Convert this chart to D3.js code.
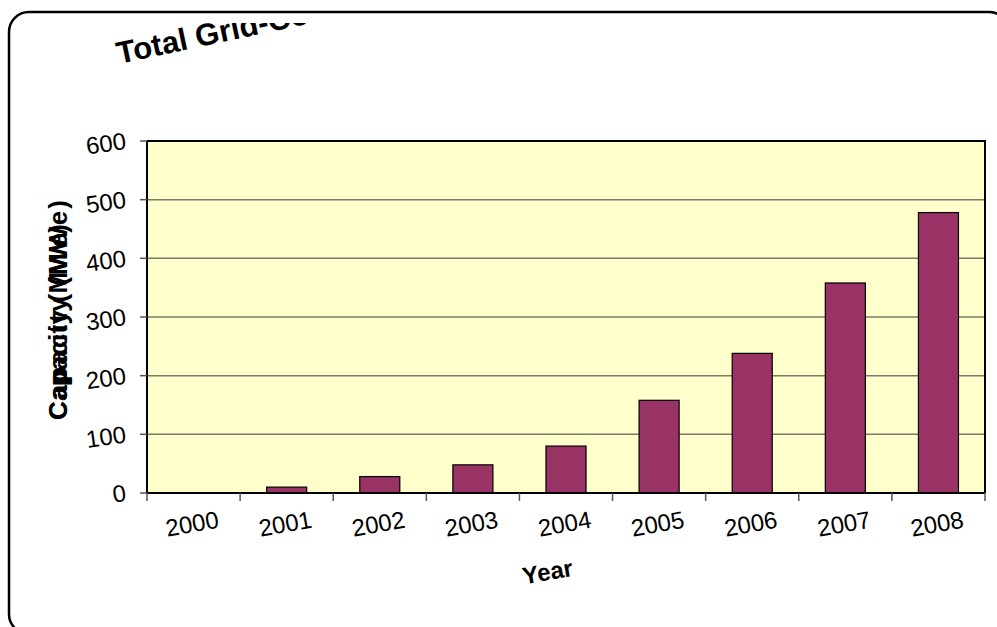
<!DOCTYPE html>
<html>
<head>
<meta charset="utf-8">
<title>Total Grid-Connected Capacity</title>
<script src="https://cdn.jsdelivr.net/npm/d3@7/dist/d3.min.js"></script>
<style>
  body { margin: 0; background: #fff; }
  svg { display: block; font-family: "Liberation Sans", Arial, sans-serif; }
</style>
</head>
<body>
<svg id="chart"></svg>
<script>
const WIDTH = 997;
const HEIGHT = 627;

// data
const years = ["2000", "2001", "2002", "2003", "2004", "2005", "2006", "2007", "2008"];
const capacity = [0, 10, 28, 48, 80, 158, 238, 358, 478];
const yTicks = [0, 100, 200, 300, 400, 500, 600];

const plot = { left: 147, right: 985, top: 141, bottom: 493 };

const svg = d3.select("#chart")
    .attr("width", WIDTH)
    .attr("height", HEIGHT);

// outer rounded frame (runs off the right and bottom edges)
svg.append("rect")
    .attr("x", 9).attr("y", 12)
    .attr("width", 1000).attr("height", 622)
    .attr("rx", 20).attr("ry", 20)
    .attr("fill", "none")
    .attr("stroke", "black")
    .attr("stroke-width", 2.5);

// title, clipped just under the frame like the original
svg.append("clipPath").attr("id", "titleclip")
    .append("rect").attr("x", 0).attr("y", 23).attr("width", WIDTH).attr("height", 100);

svg.append("g")
    .attr("clip-path", "url(#titleclip)")
  .append("text")
    .attr("transform", "translate(119,64) rotate(-12)")
    .attr("font-size", 31)
    .attr("font-weight", "bold")
    .text("Total Grid-Connected Capacity");

var x = d3.scaleBand()
    .domain(years)
    .range([plot.left, plot.right])
    .padding(0);

var y = d3.scaleLinear()
    .domain([0, 600])
    .range([plot.bottom, plot.top]);

// plot background
svg.append("rect")
    .attr("x", plot.left).attr("y", plot.top)
    .attr("width", plot.right - plot.left)
    .attr("height", plot.bottom - plot.top)
    .attr("fill", "#FFFFCC");

// gridlines
svg.append("g")
    .selectAll("line")
    .data(yTicks.slice(1))
    .enter()
    .append("line")
    .attr("x1", plot.left).attr("x2", plot.right)
    .attr("y1", d => y(d)).attr("y2", d => y(d))
    .attr("stroke", "#7a7a66")
    .attr("stroke-width", 1.5);

// bars
var barW = x.bandwidth() * 0.43;
svg.append("g")
    .selectAll("rect")
    .data(capacity)
    .enter()
    .append("rect")
    .attr("x", (d, i) => x(years[i]) + (x.bandwidth() - barW) / 2)
    .attr("y", d => y(d))
    .attr("width", barW)
    .attr("height", d => y(0) - y(d))
    .attr("fill", "#993366")
    .attr("stroke", "black")
    .attr("stroke-width", 1.2);

// plot border
svg.append("path")
    .attr("d", `M${plot.left},${plot.top}H${plot.right}V${plot.bottom}`)
    .attr("fill", "none")
    .attr("stroke", "black")
    .attr("stroke-width", 2);

// y axis
var yAxis = svg.append("g");
yAxis.append("line")
    .attr("x1", plot.left).attr("x2", plot.left)
    .attr("y1", plot.top).attr("y2", plot.bottom)
    .attr("stroke", "black").attr("stroke-width", 2);
yAxis.selectAll(".tick")
    .data(yTicks)
    .enter()
    .append("line")
    .attr("x1", plot.left - 7).attr("x2", plot.left)
    .attr("y1", d => y(d)).attr("y2", d => y(d))
    .attr("stroke", "#555").attr("stroke-width", 1.5);
yAxis.selectAll("text")
    .data(yTicks)
    .enter()
    .append("text")
    .attr("transform", d => `translate(127,${y(d) + 8}) rotate(-8)`)
    .attr("text-anchor", "end")
    .attr("font-size", 24)
    .text(d => d);

// x axis
var xAxis = svg.append("g");
xAxis.append("line")
    .attr("x1", plot.left).attr("x2", plot.right)
    .attr("y1", plot.bottom).attr("y2", plot.bottom)
    .attr("stroke", "black").attr("stroke-width", 2);
xAxis.selectAll(".tick")
    .data(years.concat(["end"]))
    .enter()
    .append("line")
    .attr("x1", (d, i) => plot.left + i * x.step())
    .attr("x2", (d, i) => plot.left + i * x.step())
    .attr("y1", plot.bottom).attr("y2", plot.bottom + 8)
    .attr("stroke", "#555").attr("stroke-width", 1.5);
xAxis.selectAll("text")
    .data(years)
    .enter()
    .append("text")
    .attr("transform", d => `translate(${x(d) + x.bandwidth() / 2},${plot.bottom + 39}) rotate(-10)`)
    .attr("text-anchor", "middle")
    .attr("font-size", 24)
    .text(d => d);

// axis titles
svg.append("text")
    .attr("transform", "translate(549,580) rotate(-10)")
    .attr("text-anchor", "middle")
    .attr("font-size", 24)
    .attr("font-weight", "bold")
    .text("Year");

// the y title in the original is smeared over itself
svg.append("text")
    .attr("transform", "translate(67,420) rotate(-90)")
    .attr("font-size", 26)
    .attr("font-weight", "bold")
    .attr("textLength", 220)
    .attr("lengthAdjust", "spacing")
    .text("Capacity (MWe)");
svg.append("text")
    .attr("transform", "translate(67,420) rotate(-90)")
    .attr("font-size", 26)
    .attr("font-weight", "bold")
    .attr("textLength", 196)
    .attr("lengthAdjust", "spacing")
    .text("Capacity (MWe)");
</script>
</body>
</html>
